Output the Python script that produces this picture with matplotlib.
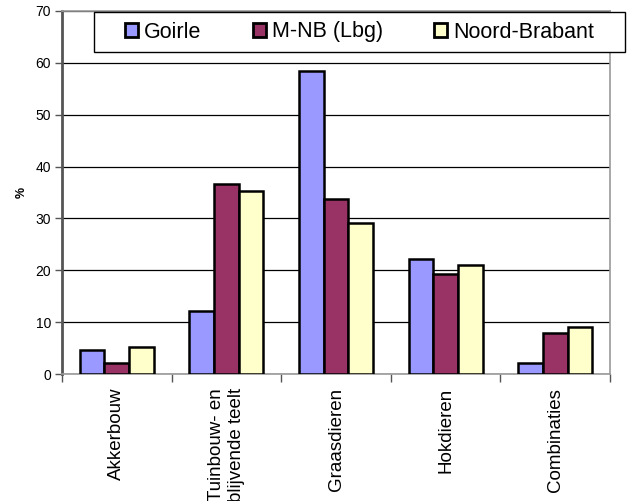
import numpy as np
import matplotlib
matplotlib.use("Agg")
import matplotlib.pyplot as plt
from matplotlib.patches import Rectangle

plt.rcParams['font.family'] = ['Liberation Sans', 'DejaVu Sans']

categories = ["Akkerbouw", "Tuinbouw- en\nblijvende teelt", "Graasdieren", "Hokdieren", "Combinaties"]
series_names = ["Goirle", "M-NB (Lbg)", "Noord-Brabant"]
goirle = [4.6, 12.2, 58.5, 22.1, 2.2]
mnb = [2.2, 36.7, 33.7, 19.2, 8.0]
noord_brabant = [5.3, 35.2, 29.2, 21.0, 9.0]
colors = ["#9999FF", "#993366", "#FFFFCC"]
yticks = [0, 10, 20, 30, 40, 50, 60, 70]

fig = plt.figure(figsize=(6.32, 5.01), dpi=100)
ax = fig.add_axes([62/632, 1-374/501, 548/632, 363/501])

x = np.arange(len(categories))
w = 0.225
for i, (vals, name) in enumerate(zip([goirle, mnb, noord_brabant], series_names)):
    ax.bar(x + (i-1)*w, vals, width=w, color=colors[i], edgecolor='black',
           linewidth=1.8, label=name, zorder=3)

ax.set_xlim(-0.5, len(categories)-0.5)
ax.set_ylim(0, 70)
ax.set_yticks(yticks)
ax.yaxis.grid(True, color='black', linewidth=0.9, zorder=0)
ax.tick_params(axis='y', labelsize=10, length=5, width=1, color='#555555', pad=3)

# category boundaries as major ticks, names on minor ticks
ax.set_xticks(np.arange(-0.5, len(categories), 1))
ax.set_xticklabels([])
ax.set_xticks(x, minor=True)
ax.set_xticklabels(categories, minor=True, rotation=90, fontsize=13.5,
                   va='top', ha='center', multialignment='right')
ax.tick_params(axis='x', which='major', length=6, width=1, color='#555555')
ax.tick_params(axis='x', which='minor', length=0, pad=10)

for side in ['top', 'right', 'bottom']:
    ax.spines[side].set_color('#999999')
    ax.spines[side].set_linewidth(1.2)
ax.spines['left'].set_color('#555555')
ax.spines['left'].set_linewidth(2)

fig.text(22/632, 1-192/501, "%", rotation=90, fontsize=9, fontweight='bold',
         ha='center', va='center')

# legend box
box = Rectangle((94/632, 1-52/501), 531/632, 40/501, transform=fig.transFigure,
                facecolor='white', edgecolor='black', linewidth=1, zorder=5)
fig.patches.append(box)
leg = fig.legend(loc='center', bbox_to_anchor=((94+265.5)/632, 1-32/501),
                 ncol=3, fontsize=15.5, frameon=False,
                 handlelength=0.6, handleheight=0.6, handletextpad=0.28,
                 columnspacing=2.4, borderaxespad=0, borderpad=0)
leg.set_zorder(6)
for h in leg.legend_handles:
    h.set_linewidth(2)

fig.savefig("out.png", dpi=100)
